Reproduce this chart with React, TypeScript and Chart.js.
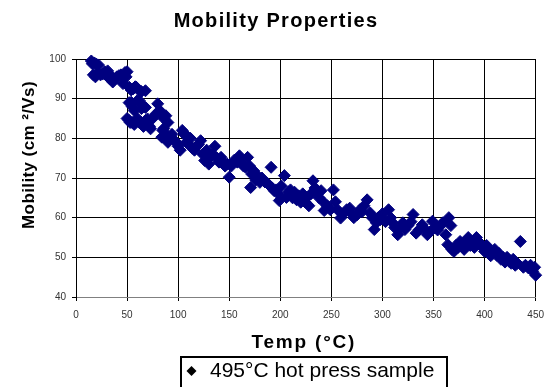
import React, { useEffect, useRef } from "react";
import { Chart, registerables } from "chart.js";

Chart.register(...registerables);

const chartTitle = "Mobility Properties";
const xAxisTitle = "Temp (°C)";
const yAxisTitle = "Mobility (cm ²/Vs)";
const seriesName = "495°C hot press sample";

const xMin = 0;
const xMax = 450;
const xStep = 50;
const yMin = 40;
const yMax = 100;
const yStep = 10;

const temps = [
  15, 16, 18, 20, 22, 17, 19, 21, 24, 26, 28, 30, 31, 33, 35, 36, 38, 40, 42, 44, 46, 48, 50, 49,
  52, 54, 56, 58, 59, 62, 64, 68, 52, 54, 55, 57, 60, 62, 64, 66, 68, 50, 52, 53, 55, 57, 60, 62,
  64, 66, 68, 70, 72, 73, 75, 78, 80, 82, 84, 86, 88, 90, 85, 86, 84, 88, 90, 92, 94, 96, 98, 100,
  102, 104, 106, 107, 108, 110, 112, 114, 116, 118, 120, 122, 124, 126, 128, 130, 132, 134, 136, 138,
  140, 142, 144, 146, 148, 150, 152, 155, 158, 160, 162, 164, 166, 168, 170, 172, 174, 171, 176, 178,
  180, 182, 185, 188, 191, 192, 194, 196, 198, 199, 201, 204, 206, 208, 210, 212, 214, 216, 218, 220,
  222, 224, 226, 228, 230, 232, 234, 236, 238, 240, 242, 243, 246, 248, 249, 252, 254, 256, 259, 262,
  265, 268, 270, 272, 275, 278, 280, 282, 285, 288, 290, 292, 294, 296, 298, 300, 303, 306, 308, 310,
  312, 315, 318, 320, 322, 325, 328, 330, 333, 336, 339, 342, 344, 347, 349, 352, 354, 357, 359, 362,
  364, 365, 367, 368, 370, 372, 374, 376, 378, 380, 382, 384, 386, 388, 390, 392, 394, 396, 398, 400,
  402, 404, 406, 408, 410, 412, 414, 416, 418, 420, 422, 424, 426, 428, 430, 432, 435, 438, 440, 443,
  445, 447, 449, 450,
];

const mobility = [
  99.5, 98.8, 99, 98.7, 98.5, 96, 95.5, 96.5, 96, 96.2, 96.8, 95.8, 97, 95, 95.5, 94.2, 95, 95.5, 95.8, 96, 93.8, 96.6, 96.8, 95.5,
  92.9, 92.2, 92.5, 93, 92.9, 92, 91.8, 92, 89, 89.1, 88, 87, 89.5, 89.5, 87.5, 88, 87.8, 85, 84.5, 84,
  84, 83.5, 85, 84, 84, 83, 84.5, 84.9, 83, 82.4, 85, 86.1, 88.7, 87, 86, 85, 85.7, 84, 82, 82.5, 80.3, 81,
  79, 80, 81, 79.5, 79, 78, 77, 82, 81, 81, 79, 78.6, 80, 77.5, 77, 78, 78.5, 79.4, 76, 74.4, 77, 73.5,
  75.5, 76, 78, 75, 74, 75.2, 74, 73, 73.5, 70.2, 73, 74.5, 74, 75.6, 74, 73, 72.7, 75.2, 73, 71, 71.8,
  67.6, 69.5, 70.5, 68.9, 70, 69, 68.5, 72.7, 67.5, 66.8, 67, 66, 64.3, 68, 70.6, 65.1, 66.5, 67, 65, 66.4,
  64.5, 65.5, 63.9, 66, 64, 65.1, 63, 66, 69.3, 67.5, 66, 65, 66.8, 64, 61.8, 63, 62.5, 62, 67, 64, 62,
  59.9, 61, 62, 62.4, 61, 60, 60.7, 62, 61.5, 63, 64.5, 61.2, 60, 57, 58.7, 60, 59.5, 61, 59, 62, 60,
  58.7, 57.5, 55.7, 57.5, 58.7, 57, 58, 59, 60.8, 56.1, 57, 58.2, 57, 55.7, 56.5, 59.1, 57.5, 56.9, 58,
  58.7, 55.7, 53.2, 60, 58, 52, 51.5, 53, 52.5, 54, 53.5, 52, 54, 55, 53, 53.8, 52.5, 55, 54, 53, 52.5,
  51.5, 53, 52, 50.4, 51, 52, 50.5, 51, 49.5, 50, 48.8, 50, 49, 48.5, 49.5, 48, 48.5, 54, 47.5, 48, 47.3,
  48, 46.5, 47.5, 45.5,
];

const markerColor = "#000080";

const points = temps.map((t, i) => ({ x: t, y: mobility[i] }));

const decorPlugin = {
  id: "excelDecor",
  afterDraw(chart: any) {
    const ctx = chart.ctx as CanvasRenderingContext2D;
    const area = chart.chartArea;
    ctx.save();
    ctx.fillStyle = "#000";
    // chart title
    ctx.font = 'bold 20px "Liberation Sans", Arial, sans-serif';
    (ctx as any).letterSpacing = "1.3px";
    ctx.textAlign = "center";
    ctx.textBaseline = "alphabetic";
    ctx.fillText(chartTitle, chart.width / 2, 27);
    // x axis title
    ctx.font = 'bold 19px "Liberation Sans", Arial, sans-serif';
    (ctx as any).letterSpacing = "1.8px";
    ctx.fillText(xAxisTitle, (area.left + area.right) / 2 - 2, 348);
    // y axis title
    ctx.save();
    ctx.font = 'bold 17px "Liberation Sans", Arial, sans-serif';
    (ctx as any).letterSpacing = "0.4px";
    ctx.translate(33.5, 155);
    ctx.rotate(-Math.PI / 2);
    ctx.fillText(yAxisTitle, 0, 0);
    ctx.restore();
    // legend
    (ctx as any).letterSpacing = "0px";
    ctx.strokeStyle = "#000";
    ctx.lineWidth = 2;
    ctx.strokeRect(181, 357, 266, 40);
    ctx.beginPath();
    const cx = 191.5;
    const cy = 371;
    const r = 5;
    ctx.moveTo(cx, cy - r);
    ctx.lineTo(cx + r, cy);
    ctx.lineTo(cx, cy + r);
    ctx.lineTo(cx - r, cy);
    ctx.closePath();
    ctx.fill();
    ctx.font = '21px "Liberation Sans", Arial, sans-serif';
    ctx.textAlign = "left";
    ctx.fillText(seriesName, 210, 377);
    ctx.restore();
  },
};

export default function App() {
  const canvasRef = useRef<HTMLCanvasElement | null>(null);

  useEffect(() => {
    const canvas = canvasRef.current;
    if (!canvas) return;
    const chart = new Chart(canvas, {
      type: "scatter",
      data: {
        datasets: [
          {
            label: seriesName,
            data: points,
            pointStyle: "rectRot",
            pointRadius: 6,
            pointHoverRadius: 6,
            backgroundColor: markerColor,
            borderColor: markerColor,
            borderWidth: 1,
            showLine: false,
            clip: false as any,
          },
        ],
      },
      options: {
        animation: false,
        responsive: false,
        devicePixelRatio: 1,
        events: [],
        layout: { padding: { left: 0, right: 11, top: 59, bottom: 60 } },
        plugins: {
          legend: { display: false },
          title: { display: false },
          tooltip: { enabled: false },
        },
        scales: {
          x: {
            type: "linear",
            min: xMin,
            max: xMax,
            afterFit(scale: any) {
              scale.height = 30;
            },
            ticks: {
              stepSize: xStep,
              color: "#333",
              padding: 8,
              maxRotation: 0,
              font: { family: '"Liberation Sans", Arial, sans-serif', size: 10 },
            },
            grid: { color: "#000", lineWidth: 1, tickLength: 4, drawTicks: true },
            border: { display: true, color: "#808080", width: 1 },
            title: { display: false },
          },
          y: {
            type: "linear",
            min: yMin,
            max: yMax,
            afterFit(scale: any) {
              scale.width = 76;
            },
            ticks: {
              stepSize: yStep,
              color: "#333",
              padding: 6,
              font: { family: '"Liberation Sans", Arial, sans-serif', size: 10 },
            },
            grid: { color: "#000", lineWidth: 1, tickLength: 4, drawTicks: true },
            border: { display: true, color: "#000", width: 1 },
            title: { display: false },
          },
        },
      },
      plugins: [decorPlugin],
    });
    return () => chart.destroy();
  }, []);

  return (
    <div style={{ position: "absolute", left: 0, top: 0, width: 552, height: 387, background: "#fff" }}>
      <canvas ref={canvasRef} width={552} height={387} style={{ width: 552, height: 387, display: "block" }} />
    </div>
  );
}
